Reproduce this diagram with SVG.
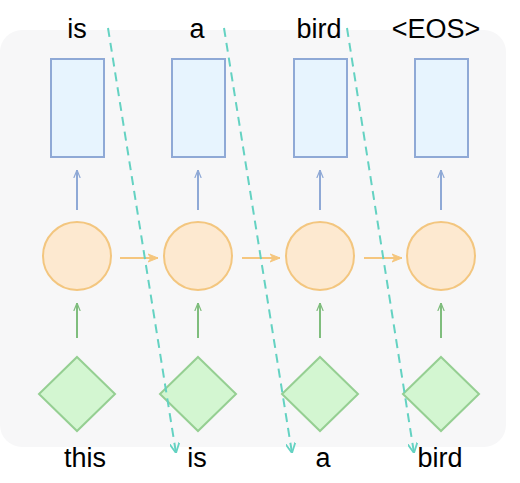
<svg xmlns="http://www.w3.org/2000/svg" width="520" height="483" viewBox="0 0 520 483">
<defs>
<style>
.bg{fill:#f7f7f8;}
.out{fill:#e7f4fe;stroke:#8fa9d6;stroke-width:2;}
.hid{fill:#fde9d0;stroke:#f3c67f;stroke-width:2;}
.inp{fill:#d3f6d1;stroke:#95cf92;stroke-width:2;}
.lbl{font-family:"Liberation Sans",Arial,sans-serif;font-size:27px;fill:#000;text-anchor:middle;}
.ab{stroke:#8fa9d6;stroke-width:2;fill:none;}
.ao{stroke:#f5c67e;stroke-width:2;fill:none;}
.ag{stroke:#7fbd7d;stroke-width:2;fill:none;}
.dash{stroke:#64d2c2;stroke-width:2;stroke-dasharray:9 6;fill:none;}
</style>
<marker id="mb" viewBox="0 0 10 10" refX="10" refY="5" markerWidth="8" markerHeight="8" orient="auto" markerUnits="userSpaceOnUse"><path d="M0,1 L10,5 L0,9" fill="none" stroke="#8fa9d6" stroke-width="1.5"/></marker>
<marker id="mo" viewBox="0 0 10 10" refX="10" refY="5" markerWidth="10" markerHeight="10" orient="auto" markerUnits="userSpaceOnUse"><path d="M0,1 L10,5 L0,9 L3,5 Z" fill="#f5c67e" stroke="#f5c67e" stroke-width="1"/></marker>
<marker id="mg" viewBox="0 0 10 10" refX="10" refY="5" markerWidth="8" markerHeight="8" orient="auto" markerUnits="userSpaceOnUse"><path d="M0,1 L10,5 L0,9" fill="none" stroke="#7fbd7d" stroke-width="1.5"/></marker>
<marker id="mt" viewBox="0 0 10 10" refX="10" refY="5" markerWidth="10" markerHeight="10" orient="auto" markerUnits="userSpaceOnUse"><path d="M0,0 L10,5 L0,10" fill="none" stroke="#64d2c2" stroke-width="1.8"/></marker>
</defs>
<rect class="bg" x="0" y="30" width="506" height="417" rx="22"/>

<g id="col1">
<rect class="out" x="51" y="59" width="53" height="98"/>
<circle class="hid" cx="77" cy="256" r="34"/>
<polygon class="inp" points="77,357 115,394 77,431 39,394"/>
</g>
<g id="col2">
<rect class="out" x="172" y="59" width="53" height="98"/>
<circle class="hid" cx="198" cy="256" r="34"/>
<polygon class="inp" points="198,357 236,394 198,431 160,394"/>
</g>
<g id="col3">
<rect class="out" x="294" y="59" width="53" height="98"/>
<circle class="hid" cx="320" cy="256" r="34"/>
<polygon class="inp" points="320,357 358,394 320,431 282,394"/>
</g>
<g id="col4">
<rect class="out" x="415" y="59" width="53" height="98"/>
<circle class="hid" cx="441" cy="256" r="34"/>
<polygon class="inp" points="441,357 479,394 441,431 403,394"/>
</g>

<g id="connectors">
<line class="ab" x1="77" y1="210" x2="77" y2="170" marker-end="url(#mb)"/>
<line class="ab" x1="198" y1="210" x2="198" y2="170" marker-end="url(#mb)"/>
<line class="ab" x1="320" y1="210" x2="320" y2="170" marker-end="url(#mb)"/>
<line class="ab" x1="441" y1="210" x2="441" y2="170" marker-end="url(#mb)"/>
<line class="ag" x1="77" y1="338" x2="77" y2="303" marker-end="url(#mg)"/>
<line class="ag" x1="198" y1="338" x2="198" y2="303" marker-end="url(#mg)"/>
<line class="ag" x1="320" y1="338" x2="320" y2="303" marker-end="url(#mg)"/>
<line class="ag" x1="441" y1="338" x2="441" y2="303" marker-end="url(#mg)"/>
<line class="ao" x1="120" y1="258" x2="158" y2="258" marker-end="url(#mo)"/>
<line class="ao" x1="242" y1="258" x2="280" y2="258" marker-end="url(#mo)"/>
<line class="ao" x1="364" y1="258" x2="402" y2="258" marker-end="url(#mo)"/>
<line class="dash" x1="108" y1="28" x2="176" y2="453" marker-end="url(#mt)"/>
<line class="dash" x1="224" y1="28" x2="292" y2="453" marker-end="url(#mt)"/>
<line class="dash" x1="347" y1="28" x2="414" y2="453" marker-end="url(#mt)"/>
</g>

<g id="labels">
<text class="lbl" x="77" y="38">is</text>
<text class="lbl" x="197" y="38">a</text>
<text class="lbl" x="319" y="38">bird</text>
<text class="lbl" x="436" y="38">&lt;EOS&gt;</text>
<text class="lbl" x="85" y="467">this</text>
<text class="lbl" x="197" y="467">is</text>
<text class="lbl" x="323" y="467">a</text>
<text class="lbl" x="440" y="467">bird</text>
</g>
</svg>
